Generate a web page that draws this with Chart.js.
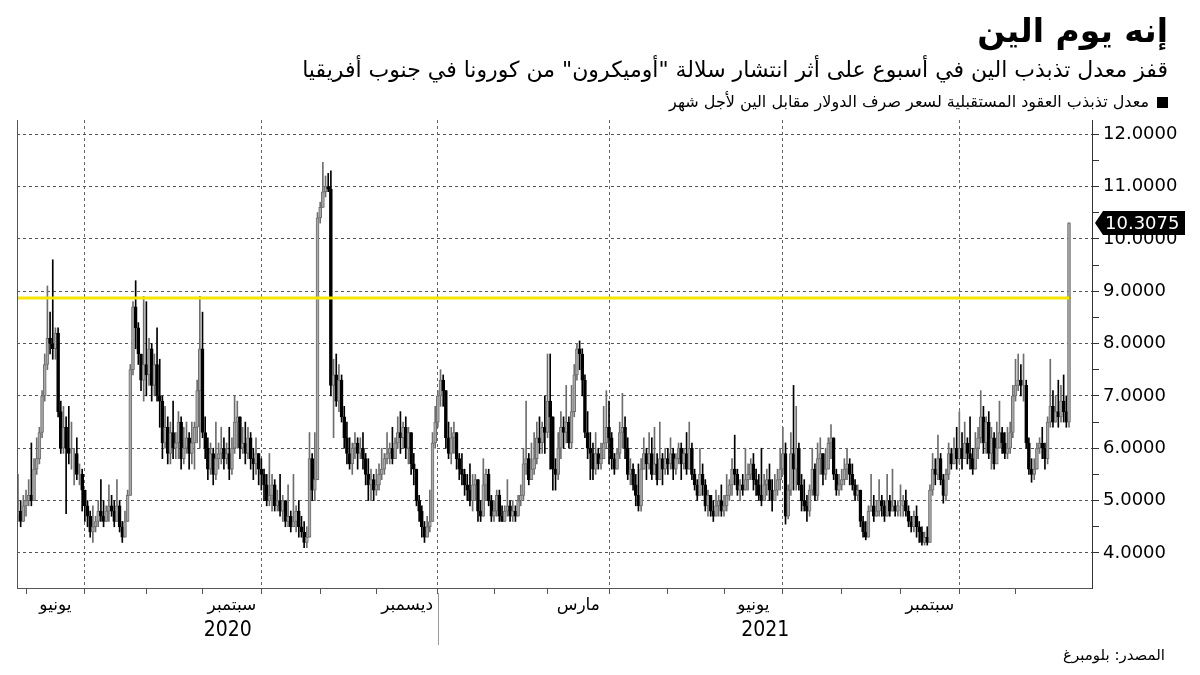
<!DOCTYPE html>
<html lang="ar">
<head>
<meta charset="utf-8">
<title>إنه يوم الين</title>
<script src="https://cdn.jsdelivr.net/npm/chart.js@4.4.0/dist/chart.umd.min.js"></script>
<style>
  body { margin: 0; background: #fff; }
  .page { position: relative; width: 1200px; height: 675px; overflow: hidden; font-family: "DejaVu Sans", sans-serif; color: #000; }
  .page canvas { position: absolute; left: 0; top: 0; }
  .txt { position: absolute; right: 32px; direction: rtl; white-space: nowrap; }
  .title { top: 11px; font-size: 33px; font-weight: bold; line-height: 40px; }
  .sub { top: 56px; font-size: 22px; line-height: 28px; }
  .legend { top: 92px; font-size: 16px; line-height: 20px; }
  .legend .box { display: inline-block; width: 11px; height: 11px; background: #000; margin-left: 8px; vertical-align: -1px; }
  .source { top: 645px; right: 35px; font-size: 15px; line-height: 20px; }
</style>
</head>
<body>
<div class="page">
  <canvas id="volChart" width="1200" height="675"></canvas>
  <div class="txt title">إنه يوم الين</div>
  <div class="txt sub">قفز معدل تذبذب الين في أسبوع على أثر انتشار سلالة "أوميكرون" من كورونا في جنوب أفريقيا</div>
  <div class="txt legend"><span class="box"></span>معدل تذبذب العقود المستقبلية لسعر صرف الدولار مقابل الين لأجل شهر</div>
  <div class="txt source">المصدر: بلومبرغ</div>
</div>
<script>
// first trading day shown
const firstDay = new Date(2020, 4, 27);

// daily close, one line per month (May 2020 -> Nov 2021)
const closeVals = [
  4.8,4.6,4.9,
  5.0,5.1,5.0,5.6,5.8,6.3,7.0,7.6,8.1,8.0,7.9,8.2,6.7,6.0,6.4,6.0,5.9,5.9,5.9,5.5,5.5,5.2,
  4.9,4.7,4.4,4.5,4.6,4.8,4.7,4.6,4.8,4.9,4.8,4.6,4.9,4.5,4.3,4.6,5.1,7.5,8.7,8.3,7.8,7.3,7.6,
  7.4,7.9,7.2,7.6,7.0,6.9,6.1,6.4,5.9,6.3,6.0,6.1,6.5,5.8,6.0,6.2,5.9,6.1,6.4,7.1,7.9,
  6.3,6.0,5.6,5.9,5.5,5.8,5.9,6.0,5.8,5.9,5.6,6.0,6.5,6.6,6.0,6.1,5.9,6.2,5.8,5.7,5.9,5.6,
  5.5,5.3,5.0,5.1,5.3,4.9,5.0,4.8,5.0,4.6,4.7,4.5,4.6,4.8,4.5,4.4,4.2,4.3,5.8,5.2,5.4,10.4,
  10.6,10.9,11.0,10.95,7.2,7.4,6.9,7.3,6.6,6.2,5.9,5.7,6.0,6.1,5.9,6.0,5.8,5.5,5.3,5.4,5.2,
  5.3,5.5,5.6,5.8,5.9,6.0,5.8,6.1,6.3,6.2,6.4,6.0,6.3,5.7,5.6,5.0,4.8,4.5,4.3,4.5,4.6,6.1,6.5,
  7.0,7.3,7.1,6.2,5.9,6.2,6.3,5.8,5.6,5.5,5.3,5.2,5.0,5.3,5.4,4.8,4.7,5.3,5.5,5.0,4.7,
  4.8,5.1,4.7,4.6,4.8,4.9,4.7,4.8,4.7,5.0,5.1,5.7,5.8,5.4,5.6,5.8,6.2,6.1,6.4,6.3,
  6.9,6.6,5.6,5.5,6.0,6.4,6.3,6.5,6.1,6.7,7.4,7.9,7.8,7.3,6.3,6.0,5.9,5.6,5.9,5.7,5.8,6.1,6.4,
  6.2,5.8,5.6,5.9,6.3,6.4,6.0,5.5,5.6,5.3,5.1,4.9,5.6,5.9,5.7,5.9,5.5,5.7,5.4,5.8,5.6,5.8,
  5.7,5.9,5.6,5.8,6.0,5.7,5.9,5.6,6.0,5.5,5.3,5.1,5.5,5.3,4.9,5.1,4.8,4.7,4.9,5.0,4.8,
  4.9,5.1,5.3,5.6,5.5,5.2,5.3,5.2,5.4,5.5,5.7,5.4,5.3,5.1,5.0,5.3,5.4,5.2,5.0,5.2,5.4,5.6,
  5.9,4.7,5.2,5.9,5.6,6.0,5.3,5.0,4.9,4.8,5.2,5.6,5.1,5.8,5.9,5.5,5.6,6.1,6.2,5.5,5.2,5.3,
  5.4,5.6,5.7,5.5,5.3,5.1,5.2,4.6,4.4,4.3,4.8,4.9,4.7,4.8,5.0,4.9,4.7,5.0,4.8,4.9,4.8,4.9,
  4.9,5.0,4.8,4.6,4.5,4.7,4.5,4.4,4.2,4.3,4.2,5.2,5.6,5.5,5.8,5.4,5.1,5.5,5.9,5.7,6.0,5.8,
  6.0,5.8,6.1,5.9,5.8,5.6,6.0,6.2,6.6,6.1,6.5,5.9,6.2,5.7,6.0,6.3,6.1,5.9,6.0,6.3,7.0,
  7.2,7.3,7.2,7.2,6.1,5.6,5.5,5.6,6.0,6.1,6.0,5.8,6.5,6.8,6.5,6.7,6.6,6.9,6.7,6.5,10.3075
];

const highVals = [
  5.5,5.0,5.1,
  5.2,5.4,6.1,5.8,6.2,6.4,7.1,7.8,9.1,8.6,9.6,8.3,8.3,6.9,6.8,6.6,6.8,6.5,6.0,6.2,5.7,5.6,
  5.1,5.0,4.8,4.9,4.7,5.0,5.4,5.0,4.9,5.3,5.1,5.0,5.4,5.0,4.6,4.8,5.2,7.6,8.8,9.2,8.4,7.8,8.9,
  8.8,8.1,8.0,7.8,8.3,7.7,7.0,6.8,6.6,6.5,6.9,6.3,6.7,6.6,6.4,6.5,6.3,6.5,6.5,7.3,8.9,
  8.6,6.6,6.2,6.1,6.0,6.5,6.1,6.4,6.2,6.1,6.4,6.2,7.0,6.9,6.6,6.4,6.5,6.4,6.3,6.0,6.2,5.9,
  5.8,5.6,5.5,5.9,5.5,5.4,5.2,5.5,5.1,5.0,5.3,4.8,5.5,4.9,5.0,4.7,4.6,4.5,6.3,5.9,6.3,10.5,
  10.7,11.46,11.2,11.25,11.3,7.7,7.8,7.6,7.4,6.8,6.5,6.2,6.1,6.3,6.2,6.2,6.3,5.9,5.8,5.6,5.5,
  5.6,5.7,6.0,5.9,6.3,6.1,6.4,6.2,6.6,6.7,6.5,6.6,6.4,6.2,5.9,5.6,5.1,4.9,4.6,4.7,5.2,6.3,6.8,
  7.1,7.5,7.4,7.0,6.5,6.4,6.5,6.3,5.9,5.9,5.6,5.5,5.7,5.5,5.5,5.4,5.0,5.8,5.6,5.6,5.1,
  5.0,5.2,5.2,4.9,4.9,5.4,5.0,5.0,4.9,5.1,5.3,6.0,6.9,5.9,6.1,6.3,6.5,6.6,6.5,7.0,
  7.8,7.8,6.0,5.8,6.3,6.7,6.6,7.2,6.6,7.2,7.6,8.0,8.05,7.9,7.4,6.7,6.3,6.1,6.3,6.0,6.1,6.8,7.1,
  6.9,6.3,5.9,6.0,6.5,7.05,6.6,6.2,5.8,5.7,5.5,5.7,5.8,6.2,6.0,6.3,6.2,6.4,5.9,6.5,5.9,6.0,
  6.0,6.2,6.0,5.9,6.1,6.1,6.0,6.3,6.5,6.1,5.6,5.4,6.0,5.7,5.4,5.2,5.1,5.0,5.2,5.1,5.3,
  5.1,5.5,5.4,5.8,6.25,5.6,5.4,5.5,6.0,5.7,5.8,5.9,5.6,5.5,6.0,5.5,5.6,5.7,5.4,5.5,5.6,6.0,
  6.4,6.1,5.3,6.3,7.2,6.8,6.1,5.5,5.4,5.1,5.3,6.0,5.7,6.1,6.2,5.9,6.0,6.2,6.45,6.2,5.6,5.5,
  5.6,5.8,6.0,5.8,5.7,5.4,5.3,5.2,4.7,4.6,4.9,5.5,5.1,5.0,5.4,5.1,5.0,5.5,5.1,5.6,5.0,5.0,
  5.3,5.1,5.2,4.9,4.7,4.8,4.9,4.6,4.5,4.4,4.5,5.3,5.9,5.8,6.25,5.9,5.5,5.6,6.1,6.0,6.2,6.4,
  6.7,6.3,6.5,6.2,6.6,6.0,6.3,6.4,7.1,6.8,6.6,6.7,6.4,6.3,6.5,6.9,6.4,6.3,6.4,6.5,7.2,
  7.7,7.8,7.6,7.8,7.3,6.2,5.8,5.8,6.1,6.2,6.4,6.1,6.6,7.7,7.1,7.0,7.3,7.2,7.4,7.0,10.3075
];

const lowVals = [
  4.6,4.5,4.6,
  4.7,4.9,4.9,5.0,5.5,5.7,6.2,6.9,7.5,7.8,7.7,7.7,6.6,5.9,5.9,4.75,5.7,5.6,5.3,5.4,5.3,4.8,
  4.6,4.5,4.3,4.2,4.4,4.5,4.6,4.5,4.6,4.6,4.7,4.5,4.8,4.4,4.2,4.4,4.7,5.1,7.4,7.9,7.6,7.1,6.9,
  7.0,7.2,6.9,7.0,6.9,6.4,5.8,6.0,5.7,5.7,5.8,5.8,5.8,5.6,5.7,5.9,5.6,5.7,5.6,6.1,6.0,
  6.2,5.8,5.4,5.5,5.3,5.4,5.6,5.7,5.6,5.7,5.4,5.5,5.9,6.0,5.8,5.9,5.7,5.8,5.6,5.4,5.5,5.3,
  5.2,5.0,4.9,4.9,4.8,4.8,4.8,4.7,4.6,4.5,4.5,4.4,4.5,4.4,4.3,4.3,4.1,4.1,4.3,5.0,5.0,5.4,
  10.3,10.6,10.8,10.9,7.0,6.2,6.8,6.7,6.5,6.0,5.7,5.6,5.5,5.8,5.6,5.8,5.6,5.3,5.0,5.0,5.0,
  5.1,5.2,5.4,5.5,5.7,5.7,5.7,5.8,6.0,5.9,6.0,5.8,5.7,5.5,5.3,4.9,4.6,4.3,4.2,4.3,4.4,4.6,6.0,
  6.4,6.8,6.8,6.0,5.8,5.7,5.9,5.6,5.4,5.3,5.1,5.0,4.9,4.8,5.0,4.6,4.6,4.7,5.0,4.9,4.6,
  4.6,4.7,4.6,4.6,4.6,4.7,4.6,4.6,4.6,4.7,4.9,5.0,5.5,5.3,5.4,5.5,5.7,5.9,5.9,5.9,
  6.2,5.6,5.2,5.2,5.4,5.8,6.0,6.1,6.0,6.0,6.6,7.3,7.5,7.0,6.2,5.8,5.4,5.4,5.5,5.6,5.6,5.8,6.0,
  5.7,5.6,5.5,5.6,5.8,6.0,5.8,5.4,5.3,5.2,4.9,4.8,4.8,5.6,5.4,5.6,5.4,5.5,5.3,5.6,5.3,5.5,
  5.5,5.6,5.4,5.5,5.7,5.4,5.6,5.5,5.6,5.4,5.2,5.0,5.1,5.1,4.8,4.7,4.7,4.6,4.7,4.7,4.7,
  4.7,4.8,5.0,5.1,5.3,5.1,5.0,5.1,5.2,5.2,5.4,5.2,5.1,5.0,4.9,5.0,5.1,5.0,4.8,5.0,5.1,5.2,
  5.5,4.55,4.65,5.1,5.2,5.2,5.2,4.8,4.8,4.6,4.7,5.1,5.0,5.0,5.5,5.3,5.4,5.6,5.8,5.4,5.1,5.1,
  5.2,5.3,5.4,5.3,5.2,5.0,5.0,4.5,4.3,4.25,4.5,4.8,4.6,4.7,4.7,4.7,4.6,4.7,4.7,4.8,4.7,4.7,
  4.7,4.7,4.7,4.5,4.4,4.4,4.3,4.2,4.15,4.15,4.15,4.2,5.1,5.3,5.4,5.3,4.95,5.0,5.4,5.6,5.7,5.6,
  5.7,5.6,5.8,5.7,5.6,5.5,5.6,5.8,6.1,5.9,5.9,5.8,5.6,5.6,5.8,6.0,5.9,5.8,5.8,5.9,6.2,
  6.9,7.1,7.0,6.9,6.0,5.5,5.35,5.4,5.6,5.9,5.8,5.6,5.7,6.4,6.4,6.5,6.4,6.5,6.5,6.4,6.4
];

const firstOpen = 4.7;
const refLevel = 8.87;   // yellow reference line

const yTickVals = [4, 4.5, 5, 5.5, 6, 6.5, 7, 7.5, 8, 8.5, 9, 9.5, 10, 10.5, 11, 11.5, 12];
const monthNames = ['يناير', 'فبراير', 'مارس', 'أبريل', 'مايو', 'يونيو', 'يوليو', 'أغسطس', 'سبتمبر', 'أكتوبر', 'نوفمبر', 'ديسمبر'];
const labelledMonths = [2, 5, 8, 11];
const quarterMonths = [0, 3, 6, 9];
const yearLabels = ['2020', '2021'];

// trading days (weekdays only)
const days = [];
let cur = new Date(firstDay);
while (days.length < closeVals.length) {
    if (cur.getDay() !== 0 && cur.getDay() !== 6) days.push(new Date(cur));
    cur.setDate(cur.getDate() + 1);
}

const monthStarts = [];
days.forEach((day, i) => {
    if (i > 0 && day.getMonth() !== days[i - 1].getMonth()) monthStarts.push(i);
});
const quarterStarts = monthStarts.filter(i => quarterMonths.includes(days[i].getMonth()));

const xMin = -0.37;
const xMax = 401.6;

const openVals = closeVals.map((c, i) => i ? closeVals[i - 1] : firstOpen);
const isUp = i => closeVals[i] >= openVals[i];

const bodyData = closeVals.map((c, i) => ({ x: i, y: [openVals[i], c] }));
const wickData = closeVals.map((c, i) => ({
    x: i,
    y: [Math.min(lowVals[i], openVals[i], c), Math.max(highVals[i], openVals[i], c)]
}));

const greyLine = '#6e6e6e';
const greyFill = '#a8a8a8';

const decor = {
    id: 'decor',
    afterDraw(chart) {
        const { ctx, chartArea: a, scales: { x, y } } = chart;
        ctx.save();

        // left edge of the plot
        ctx.strokeStyle = '#555';
        ctx.lineWidth = 1;
        ctx.beginPath();
        ctx.moveTo(a.left + 0.5, a.top);
        ctx.lineTo(a.left + 0.5, a.bottom);
        ctx.stroke();

        // month labels, centred in their month
        ctx.fillStyle = '#000';
        ctx.textAlign = 'center';
        ctx.textBaseline = 'middle';
        ctx.font = '17px "DejaVu Sans"';
        monthStarts.forEach((s, k) => {
            const m = days[s].getMonth();
            if (!labelledMonths.includes(m)) return;
            const e = k + 1 < monthStarts.length ? monthStarts[k + 1] : days.length;
            ctx.fillText(monthNames[m], x.getPixelForValue((s + e) / 2), 606);
        });

        // years
        const yb = days.findIndex(d => d.getFullYear() === 2021);
        const xb = Math.round(x.getPixelForValue(yb)) + 0.5;
        ctx.font = '21px "DejaVu Sans Condensed"';
        ctx.fillText(yearLabels[0], (a.left + xb) / 2, 631);
        ctx.fillText(yearLabels[1], (xb + a.right) / 2, 631);
        ctx.strokeStyle = '#999';
        ctx.beginPath();
        ctx.moveTo(xb, 593);
        ctx.lineTo(xb, 645);
        ctx.stroke();

        // last value tag
        const last = closeVals[closeVals.length - 1];
        const ty = Math.round(y.getPixelForValue(last));
        const tx = a.right + 3;
        ctx.fillStyle = '#000';
        ctx.beginPath();
        ctx.moveTo(tx, ty);
        ctx.lineTo(tx + 8, ty - 12);
        ctx.lineTo(tx + 90, ty - 12);
        ctx.lineTo(tx + 90, ty + 12);
        ctx.lineTo(tx + 8, ty + 12);
        ctx.closePath();
        ctx.fill();
        ctx.fillStyle = '#fff';
        ctx.textAlign = 'left';
        ctx.font = '18px "DejaVu Sans"';
        ctx.fillText(last.toFixed(4), tx + 10, ty + 1);

        ctx.restore();
    }
};

const ctx = document.getElementById('volChart').getContext('2d');
const volChart = new Chart(ctx, {
    type: 'bar',
    data: {
        datasets: [
            {
                type: 'line',
                data: [{ x: xMin, y: refLevel }, { x: closeVals.length - 1, y: refLevel }],
                borderColor: '#f6e500',
                borderWidth: 3,
                pointRadius: 0
            },
            {
                data: bodyData,
                grouped: false,
                barThickness: 3,
                borderWidth: 1,
                borderSkipped: false,
                backgroundColor: c => isUp(c.dataIndex) ? greyFill : '#000',
                borderColor: c => isUp(c.dataIndex) ? greyLine : '#000'
            },
            {
                data: wickData,
                grouped: false,
                barThickness: 1,
                borderWidth: 0,
                backgroundColor: c => isUp(c.dataIndex) ? greyLine : '#000'
            }
        ]
    },
    options: {
        responsive: false,
        animation: false,
        devicePixelRatio: 1,
        layout: { padding: { left: 17, top: 120, right: 0, bottom: 0 } },
        plugins: { legend: { display: false }, tooltip: { enabled: false } },
        scales: {
            x: {
                type: 'linear',
                min: xMin,
                max: xMax,
                offset: false,
                afterBuildTicks: s => { s.ticks = monthStarts.map(v => ({ value: v })); },
                afterFit: s => { s.height = 87; },
                ticks: { display: false, autoSkip: false },
                grid: {
                    offset: false,
                    color: c => quarterStarts.includes(c.tick && c.tick.value) ? '#666' : 'rgba(0,0,0,0)',
                    tickLength: 6,
                    tickColor: '#555'
                },
                border: { color: '#555', dash: [3, 3] }
            },
            y: {
                position: 'right',
                min: 3.33,
                max: 12.27,
                afterBuildTicks: s => { s.ticks = yTickVals.map(v => ({ value: v })); },
                afterFit: s => { s.width = 108; },
                ticks: {
                    autoSkip: false,
                    color: '#000',
                    padding: 4,
                    font: { family: 'DejaVu Sans', size: 18 },
                    callback: v => Number.isInteger(v) ? v.toFixed(4) : ''
                },
                grid: {
                    color: c => c.tick && Number.isInteger(c.tick.value) ? '#555' : 'rgba(0,0,0,0)',
                    tickLength: 7,
                    tickColor: '#333'
                },
                border: { color: '#333', dash: [3, 3] }
            }
        }
    },
    plugins: [decor]
});
</script>
</body>
</html>
